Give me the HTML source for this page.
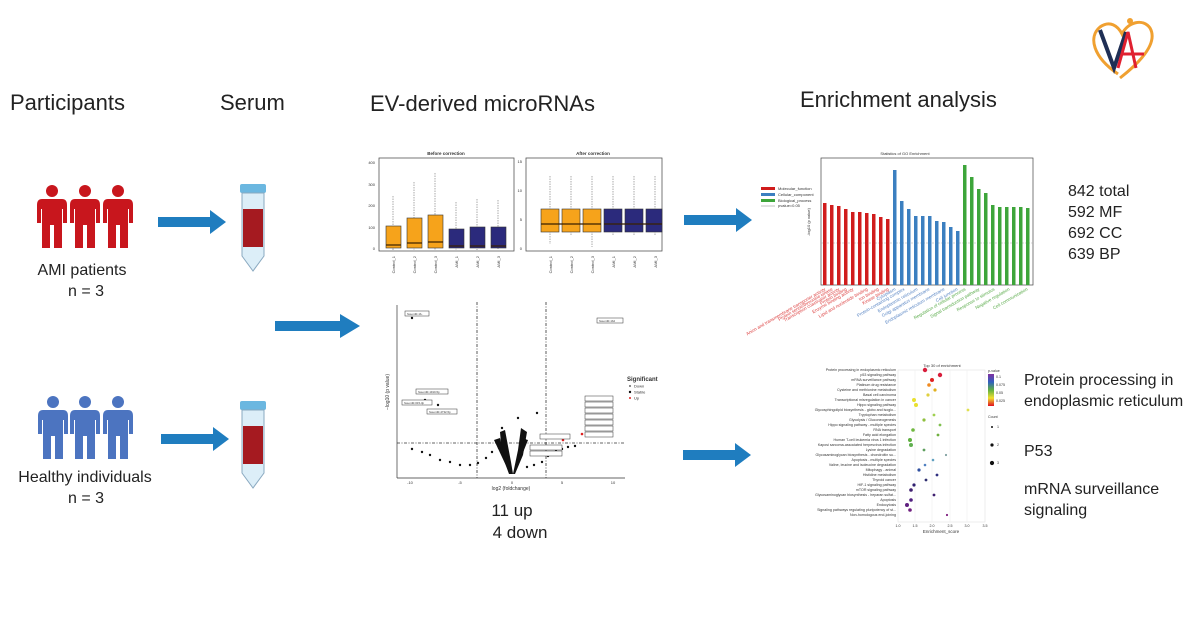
<!DOCTYPE html>
<html><head><meta charset="utf-8"><style>
html,body{margin:0;padding:0;background:#fff;}
svg{display:block;font-family:"Liberation Sans",Arial,sans-serif;}
</style></head><body>
<svg width="1200" height="628" viewBox="0 0 1200 628" xmlns="http://www.w3.org/2000/svg">
<defs>
<g id="person">
<circle cx="15" cy="6" r="6"/>
<path d="M5 14 H25 Q30 14 30 20 L30 38 L26 38 L26 24 L25 24 L25 63 L17 63 L17 40 L13 40 L13 63 L5 63 L5 24 L4 24 L4 38 L0 38 L0 20 Q0 14 5 14 Z"/>
</g>
<g id="tube">
<rect x="0" y="0" width="26" height="9" rx="2" fill="#6bb7e0"/>
<path d="M2 9 H24 V72 L13 87 L2 72 Z" fill="#dceef8" stroke="#8aa9c0" stroke-width="1"/>
<rect x="3" y="25" width="20" height="38" fill="#a51a20"/>
</g>
<g id="arrow">
<path d="M0 -5 H52 V-12 L68 0 L52 12 V5 H0 Z" fill="#1f7dbf"/>
</g>
</defs>

<text x="10" y="110" font-size="22" fill="#222">Participants</text>
<text x="220" y="110" font-size="22" fill="#222">Serum</text>
<text x="370" y="111" font-size="22" fill="#222">EV-derived microRNAs</text>
<text x="800" y="107" font-size="22" fill="#222">Enrichment analysis</text>

<g transform="translate(1088,12)">
<path d="M30 62 C5 45 0 25 12 15 C22 8 30 14 34 22 C40 10 55 6 62 16 C70 30 55 48 32 66" fill="none" stroke="#f0a030" stroke-width="3"/>
<path d="M12 18 L26 56 L38 20" fill="none" stroke="#1f2f55" stroke-width="4"/>
<path d="M30 56 L40 20 L48 56 M33 42 H56" fill="none" stroke="#e02030" stroke-width="3"/>
<circle cx="42" cy="9" r="3" fill="#f0a030"/>
</g>

<g fill="#c8161d">
<use href="#person" transform="translate(37,185)"/>
<use href="#person" transform="translate(70,185)"/>
<use href="#person" transform="translate(103,185)"/>
</g>
<text x="82" y="275" font-size="16" text-anchor="middle" fill="#222">AMI patients</text>
<text x="86" y="296" font-size="16" text-anchor="middle" fill="#222">n = 3</text>
<g fill="#4c74c0">
<use href="#person" transform="translate(38,396)"/>
<use href="#person" transform="translate(70,396)"/>
<use href="#person" transform="translate(103,396)"/>
</g>
<text x="85" y="482" font-size="16" text-anchor="middle" fill="#222">Healthy individuals</text>
<text x="86" y="503" font-size="16" text-anchor="middle" fill="#222">n = 3</text>

<use href="#arrow" transform="translate(158,222)"/>
<use href="#arrow" transform="translate(161,439)"/>
<use href="#arrow" transform="translate(275,326) scale(1.25,1)"/>
<use href="#arrow" transform="translate(684,220)"/>
<use href="#arrow" transform="translate(683,455)"/>
<use href="#tube" transform="translate(240,184)"/>
<use href="#tube" transform="translate(240,401)"/>

<g font-size="4" fill="#333">
<text x="446" y="155" text-anchor="middle" font-size="4.5" font-weight="bold">Before correction</text>
<rect x="379" y="158" width="135" height="93" fill="none" stroke="#555" stroke-width="0.8"/>
<g stroke="#555" stroke-width="0.5" stroke-dasharray="1.5,1">
<line x1="393" y1="196" x2="393" y2="250"/><line x1="414" y1="182" x2="414" y2="250"/><line x1="435" y1="173" x2="435" y2="250"/>
<line x1="456" y1="202" x2="456" y2="250"/><line x1="477" y1="199" x2="477" y2="250"/><line x1="498" y1="200" x2="498" y2="250"/>
</g>
<g stroke="#333" stroke-width="0.6">
<rect x="386" y="226" width="15" height="22" fill="#f6a31b"/><rect x="407" y="218" width="15" height="30" fill="#f6a31b"/><rect x="428" y="215" width="15" height="33" fill="#f6a31b"/>
<rect x="449" y="229" width="15" height="19" fill="#2b2a7c"/><rect x="470" y="227" width="15" height="21" fill="#2b2a7c"/><rect x="491" y="227" width="15" height="21" fill="#2b2a7c"/>
</g>
<g stroke="#3a2000" stroke-width="1.2"><line x1="386" y1="245" x2="401" y2="245"/><line x1="407" y1="243" x2="422" y2="243"/><line x1="428" y1="242" x2="443" y2="242"/><line x1="449" y1="246" x2="464" y2="246"/><line x1="470" y1="246" x2="485" y2="246"/><line x1="491" y1="246" x2="506" y2="246"/></g>
<text x="375" y="164" text-anchor="end">400</text><text x="375" y="186" text-anchor="end">300</text><text x="375" y="207" text-anchor="end">200</text><text x="375" y="229" text-anchor="end">100</text><text x="375" y="250" text-anchor="end">0</text>
<g text-anchor="end"><text transform="translate(395,256) rotate(-90)">Control_1</text><text transform="translate(416,256) rotate(-90)">Control_2</text><text transform="translate(437,256) rotate(-90)">Control_3</text><text transform="translate(458,256) rotate(-90)">AMI_1</text><text transform="translate(479,256) rotate(-90)">AMI_2</text><text transform="translate(500,256) rotate(-90)">AMI_3</text></g>
</g>
<g font-size="4" fill="#333">
<text x="593" y="155" text-anchor="middle" font-size="4.5" font-weight="bold">After correction</text>
<rect x="526" y="158" width="136" height="93" fill="none" stroke="#555" stroke-width="0.8"/>
<g stroke="#555" stroke-width="0.5" stroke-dasharray="1.5,1">
<line x1="550" y1="176" x2="550" y2="244"/><line x1="571" y1="176" x2="571" y2="236"/><line x1="592" y1="176" x2="592" y2="247"/>
<line x1="613" y1="176" x2="613" y2="235"/><line x1="634" y1="176" x2="634" y2="236"/><line x1="655" y1="176" x2="655" y2="236"/>
</g>
<g stroke="#333" stroke-width="0.6">
<rect x="541" y="209" width="18" height="23" fill="#f6a31b"/><rect x="562" y="209" width="18" height="23" fill="#f6a31b"/><rect x="583" y="209" width="18" height="23" fill="#f6a31b"/>
<rect x="604" y="209" width="18" height="23" fill="#2b2a7c"/><rect x="625" y="209" width="18" height="23" fill="#2b2a7c"/><rect x="646" y="209" width="16" height="23" fill="#2b2a7c"/>
</g>
<g stroke="#3a2000" stroke-width="1.2"><line x1="541" y1="224" x2="601" y2="224"/><line x1="604" y1="224" x2="662" y2="224"/></g>
<text x="522" y="163" text-anchor="end">15</text><text x="522" y="192" text-anchor="end">10</text><text x="522" y="221" text-anchor="end">5</text><text x="522" y="250" text-anchor="end">0</text>
<g text-anchor="end"><text transform="translate(552,256) rotate(-90)">Control_1</text><text transform="translate(573,256) rotate(-90)">Control_2</text><text transform="translate(594,256) rotate(-90)">Control_3</text><text transform="translate(615,256) rotate(-90)">AMI_1</text><text transform="translate(636,256) rotate(-90)">AMI_2</text><text transform="translate(657,256) rotate(-90)">AMI_3</text></g>
</g>

<g font-size="4" fill="#333">
<line x1="397" y1="305" x2="397" y2="478" stroke="#333" stroke-width="0.7"/>
<line x1="397" y1="478" x2="625" y2="478" stroke="#333" stroke-width="0.7"/>
<g stroke="#333" stroke-width="0.8" stroke-dasharray="3,1.5,1,1.5">
<line x1="477" y1="302" x2="477" y2="478"/><line x1="546" y1="302" x2="546" y2="478"/><line x1="397" y1="443" x2="625" y2="443"/>
</g>
<g fill="#111">
<path d="M500 432 L505 430 L511 462 L513 474 L518 450 L521 428 L527 432 L523 455 L515 474 L509 474 L502 455 Z"/>
<path d="M494 440 L500 438 L506 462 L509 472 Z"/><path d="M521 438 L528 440 L516 470 Z"/>
<circle cx="499" cy="448" r="1.2"/><circle cx="492" cy="452" r="1.2"/><circle cx="486" cy="458" r="1.2"/><circle cx="478" cy="463" r="1.2"/>
<circle cx="470" cy="465" r="1.2"/><circle cx="460" cy="465" r="1.2"/><circle cx="450" cy="462" r="1.2"/><circle cx="440" cy="460" r="1.2"/>
<circle cx="430" cy="455" r="1.2"/><circle cx="422" cy="452" r="1.2"/><circle cx="412" cy="449" r="1.2"/>
<circle cx="527" cy="467" r="1.2"/><circle cx="534" cy="465" r="1.2"/><circle cx="542" cy="462" r="1.2"/><circle cx="548" cy="456" r="1.2"/>
<circle cx="556" cy="450" r="1.2"/><circle cx="562" cy="449" r="1.2"/><circle cx="568" cy="447" r="1.2"/><circle cx="575" cy="446" r="1.2"/>
<circle cx="537" cy="413" r="1.2"/><circle cx="518" cy="418" r="1.2"/><circle cx="502" cy="428" r="1.2"/><circle cx="525" cy="440" r="1.2"/>
<circle cx="412" cy="318" r="1.2"/><circle cx="426" cy="392" r="1.2"/><circle cx="425" cy="400" r="1.2"/><circle cx="438" cy="405" r="1.2"/>
</g>
<circle cx="606" cy="321" r="1.3" fill="#d22"/><circle cx="582" cy="434" r="1.3" fill="#d22"/><circle cx="563" cy="440" r="1.3" fill="#d22"/>
<g fill="#fff" stroke="#333" stroke-width="0.5">
<rect x="405" y="311" width="24" height="5"/><rect x="597" y="318" width="26" height="5"/><rect x="416" y="389" width="32" height="5"/><rect x="402" y="400" width="30" height="5"/><rect x="427" y="409" width="30" height="5"/>
<rect x="585" y="396" width="28" height="5"/><rect x="585" y="402" width="28" height="5"/><rect x="585" y="408" width="28" height="5"/><rect x="585" y="414" width="28" height="5"/><rect x="585" y="420" width="28" height="5"/><rect x="585" y="426" width="28" height="5"/><rect x="585" y="432" width="28" height="5"/>
<rect x="540" y="434" width="30" height="5"/><rect x="530" y="445" width="32" height="5"/><rect x="530" y="451" width="32" height="5"/>
</g>
<g font-size="2.8"><text x="407" y="315">hsa-miR-1b-</text><text x="599" y="322">hsa-miR-1b2</text><text x="418" y="393">hsa-miR-1910-5p</text><text x="404" y="404">hsa-miR-615-3p</text><text x="429" y="413">hsa-miR-4732-5p</text></g>
<text transform="translate(389,392) rotate(-90)" text-anchor="middle" font-size="5">−log10 (p value)</text>
<text x="511" y="490" text-anchor="middle" font-size="5">log2 (foldchange)</text>
<text x="410" y="484" text-anchor="middle">-10</text><text x="460" y="484" text-anchor="middle">-5</text><text x="512" y="484" text-anchor="middle">0</text><text x="562" y="484" text-anchor="middle">5</text><text x="613" y="484" text-anchor="middle">10</text>
<text x="627" y="381" font-size="6" font-weight="bold">Significant</text>
<circle cx="630" cy="386" r="1" fill="#666"/><text x="634" y="387.5">Down</text>
<circle cx="630" cy="392" r="1.2" fill="#111"/><text x="634" y="393.5">Stable</text>
<circle cx="630" cy="398" r="1" fill="#d22"/><text x="634" y="399.5">Up</text>
</g>
<text x="512" y="516" font-size="17" text-anchor="middle" fill="#222">11 up</text>
<text x="520" y="538" font-size="17" text-anchor="middle" fill="#222">4 down</text>

<g font-size="4" fill="#333">
<text x="905" y="155" text-anchor="middle">Statistics of GO Enrichment</text>
<rect x="821" y="158" width="212" height="127" fill="none" stroke="#444" stroke-width="0.7"/>
<line x1="821" y1="243" x2="1033" y2="243" stroke="#aaa" stroke-width="0.6" stroke-dasharray="2,1"/>
<g fill="#d01c1c">
<rect x="823" y="203" width="3.5" height="82"/><rect x="830" y="205" width="3.5" height="80"/><rect x="837" y="206" width="3.5" height="79"/><rect x="844" y="209" width="3.5" height="76"/><rect x="851" y="212" width="3.5" height="73"/><rect x="858" y="212" width="3.5" height="73"/><rect x="865" y="213" width="3.5" height="72"/><rect x="872" y="214" width="3.5" height="71"/><rect x="879" y="217" width="3.5" height="68"/><rect x="886" y="219" width="3.5" height="66"/>
</g>
<g fill="#3b7fc0">
<rect x="893" y="170" width="3.5" height="115"/><rect x="900" y="201" width="3.5" height="84"/><rect x="907" y="209" width="3.5" height="76"/><rect x="914" y="216" width="3.5" height="69"/><rect x="921" y="216" width="3.5" height="69"/><rect x="928" y="216" width="3.5" height="69"/><rect x="935" y="221" width="3.5" height="64"/><rect x="942" y="222" width="3.5" height="63"/><rect x="949" y="227" width="3.5" height="58"/><rect x="956" y="231" width="3.5" height="54"/>
</g>
<g fill="#3da53a">
<rect x="963" y="165" width="3.5" height="120"/><rect x="970" y="177" width="3.5" height="108"/><rect x="977" y="189" width="3.5" height="96"/><rect x="984" y="193" width="3.5" height="92"/><rect x="991" y="205" width="3.5" height="80"/><rect x="998" y="207" width="3.5" height="78"/><rect x="1005" y="207" width="3.5" height="78"/><rect x="1012" y="207" width="3.5" height="78"/><rect x="1019" y="207" width="3.5" height="78"/><rect x="1026" y="208" width="3.5" height="77"/>
</g>
<text transform="translate(810,222) rotate(-90)" text-anchor="middle">-log10 (p value)</text>
<rect x="761" y="187" width="14" height="3" fill="#d01c1c"/><text x="778" y="190">Molecular_function</text>
<rect x="761" y="193" width="14" height="3" fill="#3b7fc0"/><text x="778" y="196">Cellular_component</text>
<rect x="761" y="199" width="14" height="3" fill="#3da53a"/><text x="778" y="202">Biological_process</text>
<line x1="761" y1="206" x2="775" y2="206" stroke="#999" stroke-width="0.6"/><text x="778" y="207">pvalue=0.05</text>
<g font-size="4.5">
<g fill="#d44" text-anchor="end">
<text transform="translate(826,290) rotate(-30)">Anion and transmembrane transporter activity</text>
<text transform="translate(833,290) rotate(-30)">Protein serine/threonine kinase</text>
<text transform="translate(840,290) rotate(-30)">Transcription coactivator activity</text>
<text transform="translate(847,290) rotate(-30)">Protein binding</text>
<text transform="translate(854,290) rotate(-30)">Enzyme binding activity</text>
<text transform="translate(868,290) rotate(-30)">Lipid and nucleotide binding</text>
<text transform="translate(879,290) rotate(-30)">Ion binding</text>
<text transform="translate(889,290) rotate(-30)">Kinase binding</text>
</g>
<g fill="#5a86c4" text-anchor="end">
<text transform="translate(896,290) rotate(-30)">Cytoplasm</text>
<text transform="translate(905,290) rotate(-30)">Protein-containing complex</text>
<text transform="translate(918,290) rotate(-30)">Endoplasmic reticulum</text>
<text transform="translate(930,290) rotate(-30)">Golgi apparatus membrane</text>
<text transform="translate(945,290) rotate(-30)">Endoplasmic reticulum membrane</text>
<text transform="translate(958,290) rotate(-30)">Cell junction</text>
</g>
<g fill="#5aab4a" text-anchor="end">
<text transform="translate(966,290) rotate(-30)">Regulation of cellular process</text>
<text transform="translate(980,290) rotate(-30)">Signal transduction pathway</text>
<text transform="translate(995,290) rotate(-30)">Response to stimulus</text>
<text transform="translate(1010,290) rotate(-30)">Negative regulation</text>
<text transform="translate(1028,290) rotate(-30)">Cell communication</text>
</g>
</g>
</g>
<g font-size="16" fill="#222">
<text x="1068" y="196">842 total</text><text x="1068" y="217">592 MF</text><text x="1068" y="238">692 CC</text><text x="1068" y="259">639 BP</text>
</g>

<g font-size="3.6" fill="#333">
<text x="942" y="367" text-anchor="middle" font-size="4">Top 30 of enrichment</text>
<rect x="898" y="370" width="87" height="152" fill="none" stroke="#ddd" stroke-width="0.5"/>
<g stroke="#e8e8e8" stroke-width="0.4">
<line x1="915" y1="370" x2="915" y2="522"/><line x1="932" y1="370" x2="932" y2="522"/><line x1="950" y1="370" x2="950" y2="522"/><line x1="967" y1="370" x2="967" y2="522"/>
</g>
<g text-anchor="end">
<text x="896" y="371">Protein processing in endoplasmic reticulum</text>
<text x="896" y="376">p53 signaling pathway</text>
<text x="896" y="381">mRNA surveillance pathway</text>
<text x="896" y="386">Platinum drug resistance</text>
<text x="896" y="391">Cysteine and methionine metabolism</text>
<text x="896" y="396">Basal cell carcinoma</text>
<text x="896" y="401">Transcriptional misregulation in cancer</text>
<text x="896" y="406">Hippo signaling pathway</text>
<text x="896" y="411">Glycosphingolipid biosynthesis - globo and isoglo...</text>
<text x="896" y="416">Tryptophan metabolism</text>
<text x="896" y="421">Glycolysis / Gluconeogenesis</text>
<text x="896" y="426">Hippo signaling pathway - multiple species</text>
<text x="896" y="431">RNA transport</text>
<text x="896" y="436">Fatty acid elongation</text>
<text x="896" y="441">Human T-cell leukemia virus 1 infection</text>
<text x="896" y="446">Kaposi sarcoma-associated herpesvirus infection</text>
<text x="896" y="451">Lysine degradation</text>
<text x="896" y="456">Glycosaminoglycan biosynthesis - chondroitin su...</text>
<text x="896" y="461">Apoptosis - multiple species</text>
<text x="896" y="466">Valine, leucine and isoleucine degradation</text>
<text x="896" y="471">Mitophagy - animal</text>
<text x="896" y="476">Histidine metabolism</text>
<text x="896" y="481">Thyroid cancer</text>
<text x="896" y="486">HIF-1 signaling pathway</text>
<text x="896" y="491">mTOR signaling pathway</text>
<text x="896" y="496">Glycosaminoglycan biosynthesis - heparan sulfat...</text>
<text x="896" y="501">Apoptosis</text>
<text x="896" y="506">Endocytosis</text>
<text x="896" y="511">Signaling pathways regulating pluripotency of st...</text>
<text x="896" y="516">Non-homologous end-joining</text>
</g>
<circle cx="925" cy="370" r="2.2" fill="#d81e3c"/><circle cx="940" cy="375" r="2.2" fill="#d81e3c"/><circle cx="932" cy="380" r="2" fill="#e02020"/>
<circle cx="929" cy="385" r="1.8" fill="#f08a20"/><circle cx="935" cy="390" r="1.6" fill="#e0b020"/><circle cx="928" cy="395" r="1.6" fill="#e0d040"/>
<circle cx="914" cy="400" r="2" fill="#e8e030"/><circle cx="916" cy="405" r="2" fill="#e8e030"/><circle cx="968" cy="410" r="1.4" fill="#e0e050"/>
<circle cx="934" cy="415" r="1.4" fill="#a0d050"/><circle cx="924" cy="420" r="1.6" fill="#90c040"/><circle cx="940" cy="425" r="1.4" fill="#80c050"/>
<circle cx="913" cy="430" r="1.8" fill="#70b840"/><circle cx="938" cy="435" r="1.4" fill="#70b040"/><circle cx="910" cy="440" r="2" fill="#60b040"/>
<circle cx="911" cy="445" r="2" fill="#60b050"/><circle cx="924" cy="450" r="1.4" fill="#60a060"/><circle cx="946" cy="455" r="1.1" fill="#80a0a0"/>
<circle cx="933" cy="460" r="1.3" fill="#60a0c0"/><circle cx="925" cy="465" r="1.3" fill="#5080c0"/><circle cx="919" cy="470" r="1.6" fill="#3050a0"/>
<circle cx="937" cy="475" r="1.4" fill="#303080"/><circle cx="926" cy="480" r="1.4" fill="#303070"/><circle cx="914" cy="485" r="1.6" fill="#302070"/>
<circle cx="911" cy="490" r="1.8" fill="#402070"/><circle cx="934" cy="495" r="1.4" fill="#402070"/><circle cx="911" cy="500" r="1.8" fill="#502080"/>
<circle cx="907" cy="505" r="2" fill="#602080"/><circle cx="910" cy="510" r="1.8" fill="#702080"/><circle cx="947" cy="515" r="1.1" fill="#802080"/>
<text x="898" y="527" text-anchor="middle">1.0</text><text x="915" y="527" text-anchor="middle">1.5</text><text x="932" y="527" text-anchor="middle">2.0</text><text x="950" y="527" text-anchor="middle">2.5</text><text x="967" y="527" text-anchor="middle">3.0</text><text x="985" y="527" text-anchor="middle">3.5</text>
<text x="941" y="533" text-anchor="middle" font-size="4.5">Enrichment_score</text>
<text x="988" y="372">p-value</text>
<defs><linearGradient id="pg" x1="0" y1="0" x2="0" y2="1"><stop offset="0" stop-color="#8030a0"/><stop offset="0.25" stop-color="#3060c0"/><stop offset="0.5" stop-color="#60b040"/><stop offset="0.75" stop-color="#f0e030"/><stop offset="1" stop-color="#e01020"/></linearGradient></defs>
<rect x="988" y="374" width="6" height="32" fill="url(#pg)"/>
<text x="996" y="378">0.1</text><text x="996" y="386">0.075</text><text x="996" y="394">0.05</text><text x="996" y="402">0.025</text>
<text x="988" y="418">Count</text>
<circle cx="992" cy="427" r="1" fill="#111"/><text x="997" y="428">1</text>
<circle cx="992" cy="445" r="1.6" fill="#111"/><text x="997" y="446">2</text>
<circle cx="992" cy="463" r="2.1" fill="#111"/><text x="997" y="464">3</text>
</g>
<g font-size="16" fill="#222">
<text x="1024" y="385">Protein processing in</text>
<text x="1024" y="406">endoplasmic reticulum</text>
<text x="1024" y="456">P53</text>
<text x="1024" y="494">mRNA surveillance</text>
<text x="1024" y="515">signaling</text>
</g>
</svg>
</body></html>
